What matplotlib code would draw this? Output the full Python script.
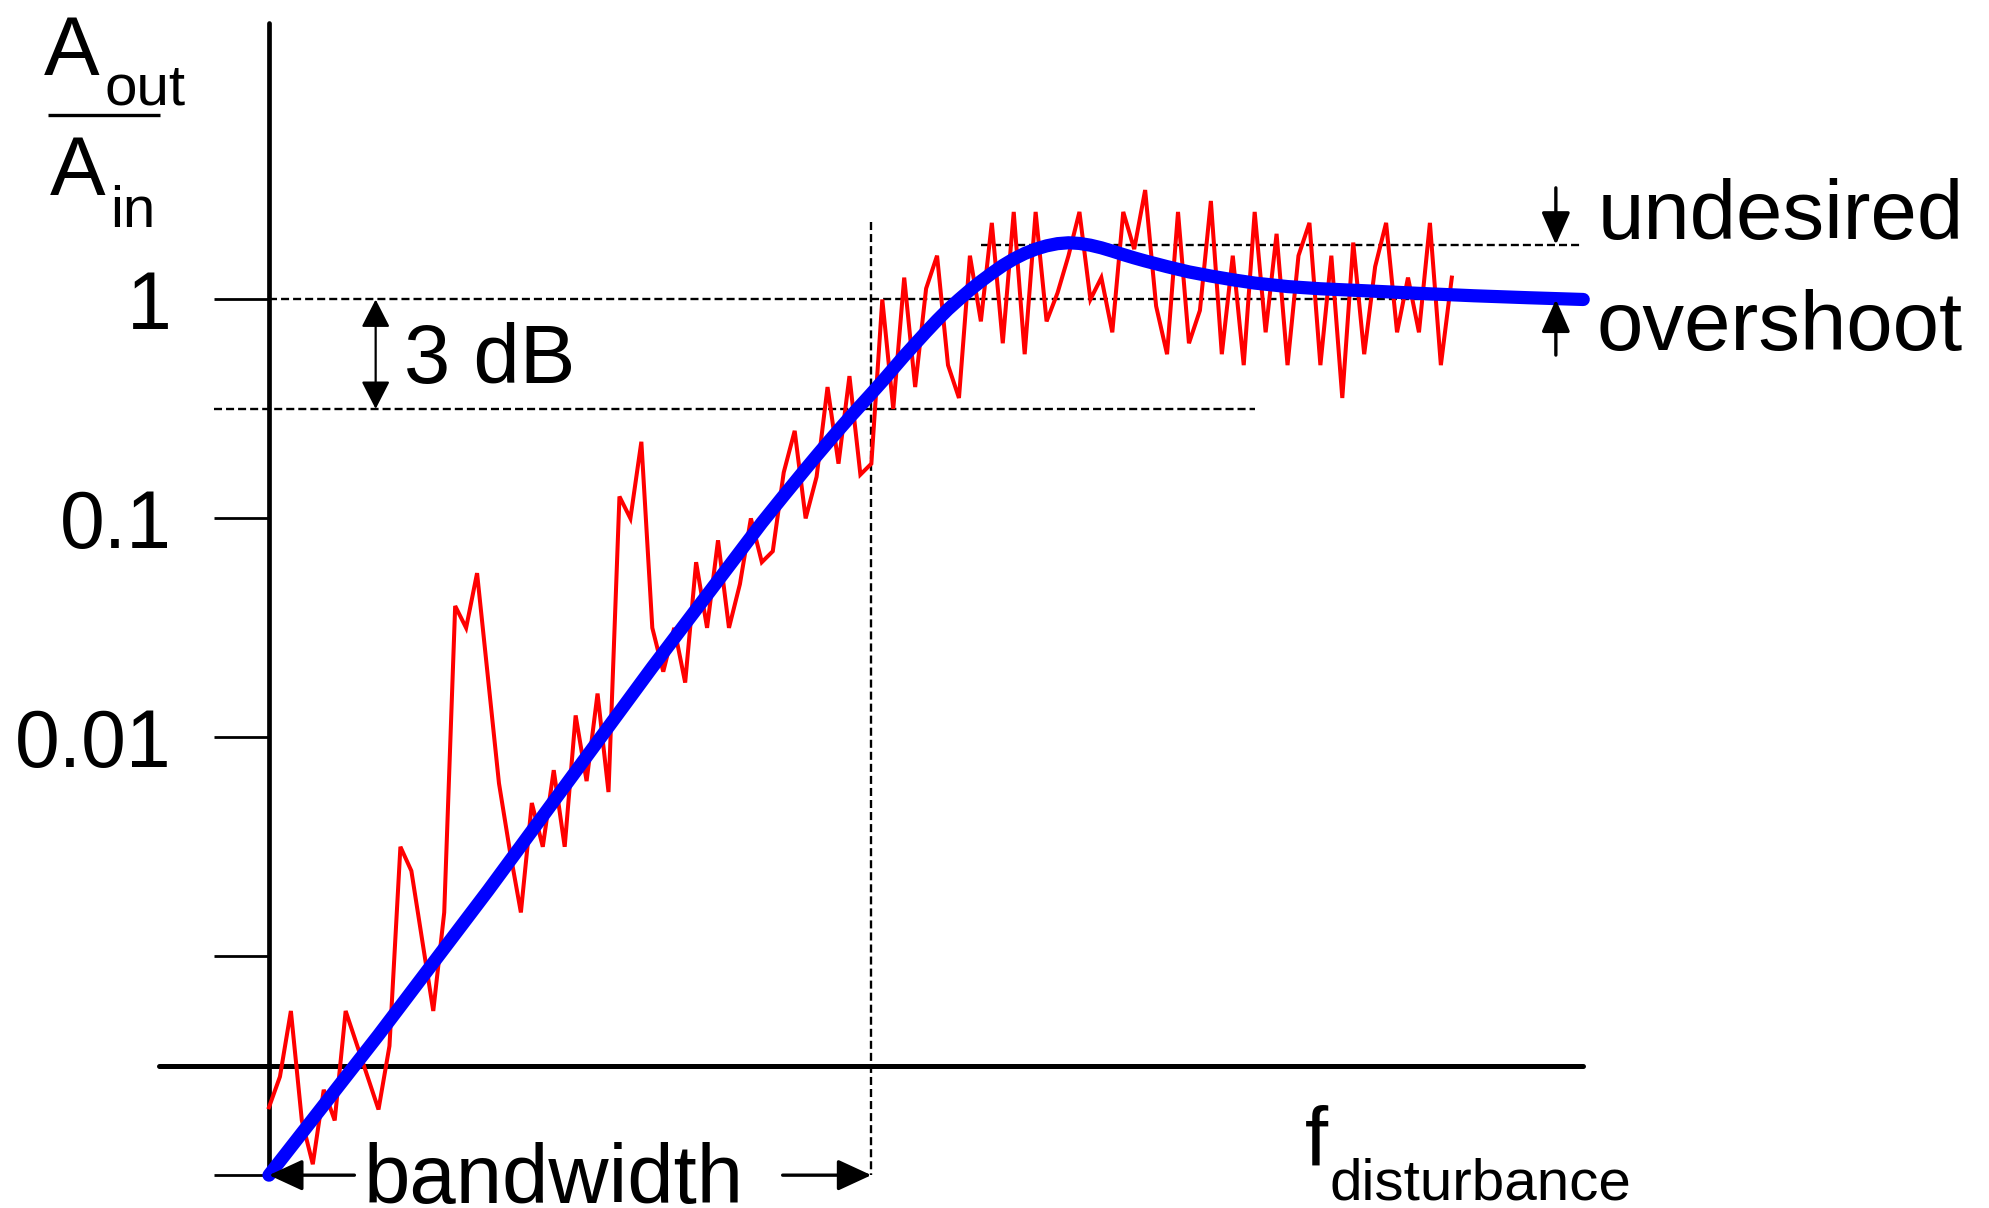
import numpy as np
import matplotlib
matplotlib.use("Agg")
import matplotlib.pyplot as plt

# --- data: x is sample index along frequency, y is log10(A_out / A_in)
red_gain = [-3.69, -3.55, -3.25, -3.75, -3.95, -3.61, -3.75, -3.25, -3.40, -3.55,
            -3.70, -3.41, -2.50, -2.61, -2.93, -3.25, -2.80, -1.40, -1.50, -1.25,
            -1.73, -2.21, -2.52, -2.80, -2.30, -2.50, -2.15, -2.50, -1.90, -2.20,
            -1.80, -2.25, -0.90, -1.00, -0.65, -1.50, -1.70, -1.50, -1.75, -1.20,
            -1.50, -1.10, -1.50, -1.30, -1.00, -1.20, -1.15, -0.79, -0.60, -1.00,
            -0.81, -0.40, -0.75, -0.35, -0.80, -0.75, 0.00, -0.50, 0.10, -0.40,
            0.05, 0.20, -0.30, -0.45, 0.20, -0.10, 0.35, -0.20, 0.40, -0.25,
            0.40, -0.10, 0.03, 0.20, 0.40, 0.00, 0.10, -0.15, 0.40, 0.23,
            0.50, -0.03, -0.25, 0.40, -0.20, -0.05, 0.45, -0.25, 0.20, -0.30,
            0.40, -0.15, 0.30, -0.30, 0.20, 0.35, -0.30, 0.20, -0.45, 0.26,
            -0.25, 0.15, 0.35, -0.15, 0.10, -0.15, 0.35, -0.30, 0.10]

blue_x = [0, 5, 10, 15, 20, 25, 30, 35, 40, 45, 46, 47, 48, 49, 50, 51, 52, 53,
          54, 55, 56, 57, 58, 59, 60, 61, 62, 63, 64, 65, 66, 67, 68, 69, 70, 71,
          72, 73, 74, 75, 76, 77, 78, 79, 80, 82, 84, 86, 88, 90, 93, 96, 100,
          105, 110, 115, 120]
blue_gain = [-4.0, -3.68, -3.36, -3.03, -2.70, -2.36, -2.02, -1.68, -1.35, -1.02,
             -0.958, -0.896, -0.835, -0.774, -0.714, -0.655, -0.597, -0.54,
             -0.485, -0.43, -0.374, -0.316, -0.258, -0.203, -0.148, -0.095,
             -0.045, 0.0, 0.043, 0.083, 0.120, 0.155, 0.185, 0.210, 0.230, 0.245,
             0.255, 0.259, 0.256, 0.248, 0.236, 0.221, 0.205, 0.190, 0.176, 0.150,
             0.126, 0.107, 0.090, 0.075, 0.059, 0.049, 0.040, 0.028, 0.017, 0.008,
             0.0]

tick_vals = [0, -1, -2, -3, -4]
tick_labels = ["1", "0.1", "0.01", "", ""]

bw_x = 55            # bandwidth frequency index
db3_level = -0.5     # 3 dB level
over_level = 0.25    # overshoot peak level
axis_level = -3.5    # where the frequency axis sits
x_end = 120

FONT = ["Liberation Sans", "DejaVu Sans"]
BIG = 60
TICK = 58
SUB = 42

fig = plt.figure(figsize=(19.9, 12.08), dpi=100)
ax = fig.add_axes([0, 0, 1, 1])
ax.set_xlim(-24.56, 157.14)
ax.set_ylim(-4.150, 1.368)
ax.axis("off")

dash = dict(color="black", lw=1.7, dashes=(3.4, 1.7))

# axes
ax.plot([0, 0], [-4.0, 1.264], color="black", lw=3.4, solid_capstyle="round")
ax.plot([-10, x_end], [axis_level, axis_level], color="black", lw=3.6, solid_capstyle="round")
for v in tick_vals:
    ax.plot([-5, 0], [v, v], color="black", lw=2.0, solid_capstyle="butt")
for v, lab in zip(tick_vals, tick_labels):
    if lab:
        ax.text(-8.9, v, lab, fontsize=TICK, family=FONT, ha="right", va="center_baseline")

# reference dashed lines
ax.plot([0, x_end], [0, 0], **dash)
ax.plot([-5, 90], [db3_level, db3_level], **dash)
ax.plot([65, x_end], [over_level, over_level], **dash)
ax.plot([bw_x, bw_x], [0.354, -4.0], **dash)

# curves
ax.plot(np.arange(len(red_gain)), red_gain, color="#ff0000", lw=2.9, solid_joinstyle="miter")
ax.plot(blue_x, blue_gain, color="#0000ff", lw=9.5, solid_capstyle="round", solid_joinstyle="round")

# 3 dB arrow
ax.annotate("", xy=(9.74, db3_level), xytext=(9.74, 0),
            arrowprops=dict(arrowstyle="<|-|>,head_length=0.43,head_width=0.22",
                            mutation_scale=40, lw=1.6, color="black", shrinkA=0, shrinkB=0))
ax.text(12.3, -0.38, "3 dB", fontsize=BIG, family=FONT, ha="left", va="baseline")

# overshoot arrows
arr = dict(arrowstyle="-|>,head_length=0.5,head_width=0.22", mutation_scale=40,
           lw=2.4, color="black", shrinkA=0, shrinkB=0)
ax.annotate("", xy=(117.5, over_level), xytext=(117.5, 0.51), arrowprops=arr)
ax.annotate("", xy=(117.5, 0), xytext=(117.5, -0.254), arrowprops=arr)
ax.text(121.3, 0.275, "undesired", fontsize=BIG, family=FONT, ha="left", va="baseline")
ax.text(121.2, -0.231, "overshoot", fontsize=BIG, family=FONT, ha="left", va="baseline")

# bandwidth arrows
arr_bw = dict(arrowstyle="-|>,head_length=0.52,head_width=0.24", mutation_scale=40,
              lw=2.4, color="black", shrinkA=0, shrinkB=0)
ax.annotate("", xy=(0, -4.0), xytext=(7.8, -4.0), arrowprops=arr_bw)
ax.annotate("", xy=(bw_x, -4.0), xytext=(46.9, -4.0), arrowprops=arr_bw)
ax.text(8.6, -4.128, "bandwidth", fontsize=BIG, family=FONT, ha="left", va="baseline")

# frequency label
ax.text(94.6, -3.954, "f", fontsize=BIG, family=FONT, ha="left", va="baseline")
ax.text(96.8, -4.11, "disturbance", fontsize=SUB, family=FONT, ha="left", va="baseline")

# y label  A_out / A_in
ax.text(-20.6, 1.026, "A", fontsize=BIG, family=FONT, ha="left", va="baseline")
ax.text(-15.0, 0.889, "out", fontsize=SUB, family=FONT, ha="left", va="baseline")
ax.plot([-20.2, -9.95], [0.843, 0.843], color="black", lw=2.4, solid_capstyle="butt")
ax.text(-20.0, 0.477, "A", fontsize=BIG, family=FONT, ha="left", va="baseline")
ax.text(-14.5, 0.333, "in", fontsize=SUB, family=FONT, ha="left", va="baseline")

fig.savefig("out.png", dpi=100)
